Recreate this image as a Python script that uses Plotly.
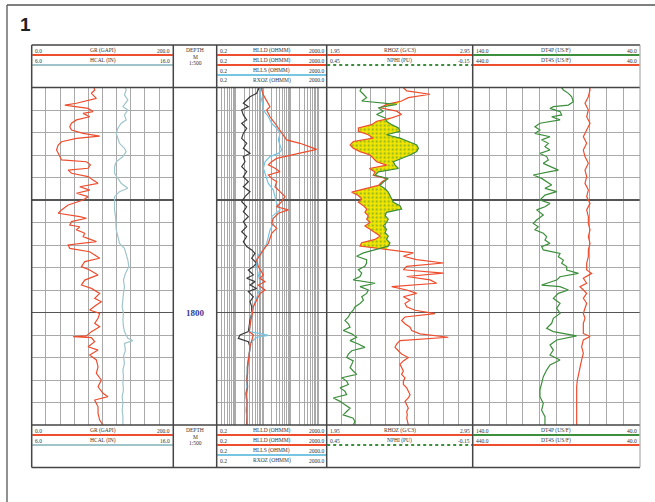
import numpy as np
import plotly.graph_objects as go

W, H = 655, 502
def px(x): return x / W
def py(y): return 1 - y / H

# ---------------- data (depth in m) ----------------
gr_depth = [1700.0, 1701.1, 1702.6, 1704.8, 1707.0, 1707.8, 1709.3, 1710.7, 1711.5, 1713.0, 1714.4, 1715.9, 1717.4, 1718.9,
            1720.4, 1721.6, 1722.6, 1724.1, 1725.6, 1727.8, 1730.0, 1732.2, 1733.0, 1734.4, 1735.9, 1736.7, 1738.1, 1739.6,
            1741.1, 1742.6, 1744.1, 1745.6, 1747.0, 1748.5, 1750.0, 1752.2, 1754.4, 1755.9, 1757.4, 1758.1, 1759.6, 1761.1,
            1761.9, 1763.3, 1764.8, 1766.3, 1768.5, 1770.0, 1771.5, 1773.0, 1774.4, 1775.9, 1777.4, 1779.6, 1781.1, 1783.3,
            1785.6, 1787.8, 1789.3, 1791.5, 1793.7, 1795.2, 1796.7, 1798.9, 1800.4, 1802.6, 1804.8, 1806.3, 1808.5, 1810.4,
            1810.7, 1811.2, 1813.0, 1815.2, 1816.7, 1818.9, 1821.1, 1824.1, 1827.0, 1830.0, 1833.0, 1835.9, 1837.4, 1838.9,
            1841.9, 1844.8, 1847.8, 1850.0]
gr = [88, 89.0, 84.3, 91.3, 63.2, 46.8, 79.6, 86.6, 72.6, 81.9, 63.2, 56.2, 53.8, 56.2, 72.6, 96.0, 63.2, 42.1, 37.4, 35.1,
      38.8, 42.1, 77.3, 82.9, 79.6, 51.5, 56.2, 79.6, 86.6, 93.7, 67.9, 81.9, 63.2, 79.6, 72.6, 51.5, 42.1, 37.4, 67.9, 77.3,
      56.2, 53.8, 67.9, 63.2, 74.9, 72.6, 91.3, 51.5, 53.8, 81.9, 89.0, 96.0, 74.9, 70.2, 81.9, 93.7, 74.9, 70.2, 84.3, 96.0,
      89.0, 98.3, 91.3, 81.9, 96.0, 93.7, 89.0, 96.0, 84.3, 77.3, 58.5, 84.3, 89.0, 79.6, 93.7, 81.9, 91.3, 93.7, 91.3, 98.3,
      93.7, 100.7, 107.7, 89.0, 93.7, 93.7, 96.0, 100.7]

hcal_depth = [1700.0, 1701.1, 1703.3, 1705.5, 1708.5, 1710.0, 1712.2, 1714.4, 1715.9, 1718.1, 1720.4, 1722.6, 1724.8, 1727.0,
              1728.5, 1730.7, 1733.0, 1735.2, 1738.1, 1740.4, 1742.6, 1744.8, 1746.3, 1748.5, 1751.5, 1754.4, 1757.4, 1760.4,
              1763.3, 1766.3, 1769.3, 1771.5, 1773.7, 1776.7, 1779.6, 1782.6, 1785.6, 1788.5, 1791.5, 1794.5, 1797.4, 1800.4,
              1803.3, 1806.3, 1808.5, 1811.5, 1812.5, 1813.7, 1816.7, 1819.6, 1822.6, 1825.6, 1828.5, 1831.5, 1834.4, 1837.4,
              1840.4, 1843.4, 1846.3, 1850.0]
hcal = [12.6, 12.67, 12.55, 12.79, 12.44, 12.79, 12.55, 12.67, 12.32, 12.09, 11.97, 12.09, 12.20, 12.55, 12.67, 12.44, 11.97,
        11.85, 11.85, 12.09, 12.32, 12.79, 12.20, 11.85, 11.85, 11.85, 11.92, 11.97, 11.97, 12.09, 12.20, 12.55, 12.67, 12.79,
        12.86, 12.62, 12.48, 12.55, 12.48, 12.44, 12.39, 12.48, 12.44, 12.48, 12.55, 12.79, 13.14, 12.55, 12.62, 12.48, 12.55,
        12.44, 12.48, 12.44, 12.48, 12.39, 12.44, 12.39, 12.44, 12.44]

rxoz_depth = [1700.0, 1701.1, 1702.6, 1704.1, 1707.0, 1708.5, 1710.0, 1712.2, 1714.4, 1715.9, 1718.1, 1720.4, 1722.6, 1724.8,
              1727.0, 1729.3, 1730.7, 1733.0, 1735.2, 1737.4, 1739.6, 1741.9, 1744.1, 1746.3, 1748.5, 1750.7, 1753.0, 1755.2,
              1757.4, 1759.6, 1761.9, 1764.1, 1766.3, 1768.5, 1770.7, 1772.2, 1773.7, 1775.9, 1778.1, 1779.6, 1781.1, 1783.3,
              1784.8, 1786.3, 1787.8, 1789.3, 1790.7, 1793.0, 1795.2, 1797.4, 1800.4, 1803.3, 1806.3, 1808.5, 1810.0, 1811.5,
              1813.0, 1815.2, 1818.1, 1821.1, 1824.1, 1827.0, 1830.0, 1833.0, 1835.9, 1838.9, 1841.9, 1844.8, 1847.8, 1850.0]
rxoz = [7.0, 6.53, 5.68, 3.25, 1.86, 2.83, 1.62, 1.86, 2.46, 1.62, 2.46, 1.86, 1.62, 2.46, 1.86, 3.25, 1.86, 2.14, 1.62, 2.46,
        1.86, 2.83, 1.86, 3.25, 2.14, 1.62, 2.46, 1.86, 2.83, 1.86, 2.46, 1.62, 2.46, 1.86, 2.46, 3.74, 4.94, 3.74, 5.68, 4.30,
        2.83, 4.30, 2.46, 4.94, 3.25, 5.68, 2.83, 4.30, 3.25, 3.74, 3.74, 3.25, 3.07, 2.83, 1.41, 1.22, 2.83, 3.25, 3.07, 2.83,
        2.60, 2.60, 2.46, 2.60, 2.33, 2.46, 2.46, 2.33, 2.46, 2.46]

hlls_depth = [1700.0, 1701.1, 1703.3, 1705.5, 1708.5, 1710.0, 1713.0, 1715.9, 1718.1, 1720.4, 1723.3, 1725.6, 1727.8, 1729.3,
              1730.7, 1733.0, 1735.9, 1738.1, 1740.4, 1742.6, 1745.6, 1748.5, 1751.5, 1754.4, 1757.4, 1760.4, 1763.3, 1766.3,
              1769.3, 1772.2, 1774.4, 1776.7, 1779.6, 1783.3, 1786.3, 1789.3, 1793.0, 1797.4, 1800.4, 1803.3, 1806.3, 1808.5,
              1809.6, 1810.2, 1811.0, 1812.2, 1813.7, 1816.7, 1819.6, 1822.6, 1825.6, 1828.5, 1831.5, 1834.4, 1837.4, 1840.4,
              1843.4, 1846.3, 1850.0]
hlls = [7.5, 7.51, 7.51, 8.64, 9.93, 9.93, 15.09, 19.94, 30.31, 40.08, 34.85, 40.08, 46.08, 34.85, 17.35, 11.41, 9.93, 11.41,
        13.12, 15.09, 22.93, 26.36, 30.31, 40.08, 19.94, 22.93, 17.35, 15.09, 13.12, 9.93, 6.53, 5.68, 5.68, 6.53, 7.51, 7.51,
        5.68, 4.30, 3.74, 3.50, 3.25, 3.07, 9.93, 15.09, 5.68, 4.30, 3.25, 3.25, 2.83, 2.83, 2.60, 2.60, 2.46, 2.60, 2.33, 2.46,
        2.33, 2.46, 2.60]

hlld_depth = [1700.0, 1701.1, 1703.3, 1707.0, 1708.5, 1710.0, 1713.0, 1715.9, 1718.1, 1720.4, 1723.3, 1724.8, 1726.3, 1727.5,
              1728.5, 1730.0, 1731.5, 1733.0, 1734.4, 1735.9, 1737.4, 1738.9, 1740.4, 1741.9, 1744.1, 1746.3, 1748.5, 1750.7,
              1753.0, 1754.4, 1755.9, 1758.1, 1760.4, 1762.6, 1764.8, 1767.0, 1769.3, 1772.2, 1774.4, 1776.7, 1779.6, 1783.3,
              1784.8, 1786.3, 1787.8, 1790.0, 1791.5, 1794.5, 1797.4, 1800.4, 1803.3, 1806.3, 1808.5, 1810.0, 1812.2, 1815.2,
              1818.1, 1821.1, 1824.1, 1827.0, 1830.0, 1833.0, 1835.9, 1838.9, 1841.9, 1844.8, 1847.8, 1850.0]
hlld = [8.5, 8.64, 9.93, 15.09, 17.35, 13.12, 17.35, 26.36, 34.85, 46.08, 70.0, 213.9, 494, 864, 374, 92.6, 30.31, 19.94,
        15.09, 26.36, 40.08, 15.09, 19.94, 30.31, 26.36, 40.08, 60.9, 46.08, 30.31, 80.5, 34.85, 22.93, 19.94, 30.31, 19.94,
        17.35, 15.09, 9.93, 7.51, 5.68, 6.53, 9.93, 7.51, 11.41, 6.53, 11.41, 7.51, 5.68, 4.30, 4.0, 3.50, 3.25, 3.07, 4.30,
        3.74, 3.25, 3.07, 2.83, 2.67, 2.67, 2.53, 2.67, 2.46, 2.53, 2.53, 2.39, 2.53, 2.53]

depth_t3 = [1700.0, 1701.5, 1703.0, 1704.5, 1706.0, 1707.5, 1709.0, 1710.5, 1712.0, 1713.5,
            1715.0, 1716.5, 1718.0, 1719.5, 1721.0, 1722.5, 1724.0, 1725.5, 1727.0, 1728.5,
            1730.0, 1731.5, 1733.0, 1734.5, 1736.0, 1737.5, 1739.0, 1740.5, 1742.0, 1743.5,
            1745.0, 1746.5, 1748.0, 1749.5, 1751.0, 1752.5, 1754.0, 1755.5, 1757.0, 1758.5,
            1760.0, 1761.5, 1763.0, 1764.5, 1766.0, 1767.5, 1769.0, 1770.5, 1772.0, 1773.5,
            1775.0, 1776.5, 1778.0, 1779.5, 1781.0, 1782.5, 1784.0, 1785.5, 1787.0, 1788.5,
            1790.0, 1791.5, 1793.0, 1794.5, 1796.0, 1797.5, 1799.0, 1800.5, 1802.0, 1803.5,
            1805.0, 1806.5, 1808.0, 1809.5, 1811.0, 1812.5, 1814.0, 1815.5, 1817.0, 1818.5,
            1820.0, 1821.5, 1823.0, 1824.5, 1826.0, 1827.5, 1829.0, 1830.5, 1832.0, 1833.5,
            1835.0, 1836.5, 1838.0, 1839.5, 1841.0, 1842.5, 1844.0, 1845.5, 1847.0, 1848.5,
            1850.0]
rhoz = [2.475, 2.498, 2.658, 2.509, 2.463, 2.361, 2.315, 2.429, 2.463, 2.395,
        2.292, 2.258, 2.167, 2.167, 2.235, 2.269, 2.132, 2.110, 2.132, 2.178,
        2.247, 2.269, 2.292, 2.361, 2.242, 2.281, 2.269, 2.361, 2.327, 2.304,
        2.212, 2.121, 2.167, 2.189, 2.167, 2.201, 2.224, 2.212, 2.235, 2.224,
        2.247, 2.212, 2.247, 2.281, 2.315, 2.281, 2.189, 2.178, 2.361, 2.543,
        2.475, 2.566, 2.749, 2.498, 2.475, 2.749, 2.498, 2.658, 2.703, 2.395,
        2.498, 2.566, 2.475, 2.521, 2.486, 2.498, 2.555, 2.692, 2.486, 2.463,
        2.486, 2.521, 2.532, 2.589, 2.783, 2.452, 2.429, 2.418, 2.441, 2.463,
        2.509, 2.475, 2.452, 2.463, 2.475, 2.463, 2.486, 2.475, 2.475, 2.498,
        2.509, 2.521, 2.509, 2.486, 2.498, 2.509, 2.498, 2.502, 2.498, 2.505,
        2.509]
nphi = [0.306, 0.313, 0.299, 0.286, 0.306, 0.162, 0.238, 0.217, 0.245, 0.210,
        0.204, 0.183, 0.155, 0.149, 0.204, 0.149, 0.114, 0.080, 0.073, 0.080,
        0.107, 0.142, 0.176, 0.169, 0.155, 0.238, 0.251, 0.197, 0.217, 0.231,
        0.210, 0.197, 0.190, 0.183, 0.176, 0.149, 0.142, 0.204, 0.210, 0.197,
        0.204, 0.217, 0.204, 0.210, 0.197, 0.204, 0.190, 0.197, 0.251, 0.299,
        0.327, 0.286, 0.286, 0.293, 0.320, 0.306, 0.313, 0.341, 0.251, 0.313,
        0.279, 0.286, 0.306, 0.299, 0.313, 0.334, 0.341, 0.354, 0.361, 0.375,
        0.361, 0.354, 0.382, 0.347, 0.327, 0.354, 0.320, 0.293, 0.347, 0.361,
        0.368, 0.341, 0.347, 0.354, 0.341, 0.327, 0.388, 0.368, 0.361, 0.395,
        0.375, 0.368, 0.423, 0.395, 0.375, 0.354, 0.368, 0.382, 0.341, 0.334,
        0.341]

dt4p_depth = [1700.0, 1701.1, 1702.6, 1704.1, 1706.3, 1707.8, 1708.5, 1709.3, 1710.7, 1712.2, 1713.0, 1714.4, 1715.9, 1717.4,
              1718.9, 1720.4, 1721.9, 1723.3, 1724.8, 1726.3, 1727.8, 1729.3, 1730.7, 1732.2, 1733.7, 1736.7, 1737.4, 1738.9,
              1740.4, 1741.9, 1743.3, 1744.8, 1746.3, 1747.8, 1750.0, 1751.5, 1753.0, 1754.4, 1756.7, 1758.9, 1760.4, 1761.9,
              1763.3, 1764.8, 1766.3, 1767.8, 1769.3, 1770.7, 1772.2, 1773.7, 1775.2, 1776.7, 1778.1, 1779.6, 1781.1, 1782.6,
              1784.1, 1785.6, 1787.8, 1788.5, 1790.0, 1791.5, 1793.7, 1795.9, 1798.1, 1800.4, 1802.6, 1804.8, 1807.0, 1808.5,
              1810.4, 1812.2, 1814.4, 1816.7, 1818.9, 1821.1, 1823.3, 1825.6, 1828.5, 1831.5, 1834.4, 1837.4, 1840.4, 1843.4,
              1846.3, 1850.0]
dt4p = [87.0, 85.8, 82.8, 80.8, 79.9, 82.8, 91.8, 93.8, 87.8, 86.8, 92.8, 87.8, 99.8, 102.8, 99.8, 102.8, 93.8, 98.8, 94.8,
        96.8, 93.8, 99.8, 95.8, 94.8, 97.8, 88.8, 93.8, 103.8, 98.8, 95.8, 92.8, 96.8, 89.8, 96.8, 99.8, 93.8, 96.8, 101.8,
        97.8, 101.8, 103.8, 100.8, 102.8, 97.8, 95.8, 96.8, 93.8, 98.8, 97.8, 87.8, 88.8, 85.8, 86.8, 83.8, 83.8, 76.8, 87.8,
        89.8, 98.8, 87.8, 82.8, 88.8, 91.8, 87.8, 89.8, 87.8, 91.8, 92.8, 95.8, 91.8, 77.9, 89.8, 93.8, 91.8, 93.8, 87.8,
        93.8, 95.8, 97.8, 98.8, 99.8, 99.8, 97.8, 98.8, 96.8, 96.8]

dt4s_depth = [1700.0, 1701.1, 1704.1, 1707.0, 1710.0, 1713.0, 1715.9, 1718.9, 1721.9, 1724.8, 1727.8, 1730.7, 1733.7, 1736.7,
              1739.6, 1742.6, 1745.6, 1748.5, 1751.5, 1754.4, 1757.4, 1760.4, 1763.3, 1766.3, 1769.3, 1772.2, 1775.2, 1778.1,
              1781.1, 1782.6, 1784.8, 1787.0, 1788.5, 1790.0, 1791.5, 1793.7, 1795.9, 1798.1, 1800.4, 1802.6, 1804.8, 1807.0,
              1809.3, 1810.7, 1812.2, 1815.2, 1818.1, 1821.1, 1824.1, 1827.0, 1830.0, 1833.0, 1835.9, 1838.9, 1841.9, 1844.8,
              1850.0]
dt4s = [160.0, 159.5, 163.5, 171.5, 163.5, 167.5, 159.5, 167.5, 175.5, 167.5, 175.5, 171.5, 163.5, 171.5, 167.5, 171.5,
        163.5, 167.5, 159.5, 167.5, 163.5, 163.5, 159.5, 163.5, 159.5, 163.5, 163.5, 167.5, 167.5, 155.5, 175.5, 167.5, 183.4,
        175.5, 167.5, 175.5, 167.5, 171.5, 175.5, 171.5, 175.5, 175.5, 175.5, 159.5, 175.5, 179.5, 175.5, 179.5, 183.4, 187.4,
        189.8, 191.4, 191.4, 191.4, 191.4, 191.4, 191.4]

depth_labels = [1800]
log_grid = [0.2, 0.3, 0.4, 0.5, 0.6, 0.7, 0.8, 0.9, 1, 2, 3, 4, 5, 6, 7, 8, 9, 10, 20, 30, 40, 50, 60, 70, 80, 90,
            100, 200, 300, 400, 500, 600, 700, 800, 900, 1000, 2000]

# header rows: (left value, curve name, right value, line colour key, dash)
t1_rows = [("0.0", "GR (GAPI)", "200.0", "red", "solid"), ("6.0", "HCAL (IN)", "16.0", "hcal", "solid")]
t2_rows = [("0.2", "HLLD (OHMM)", "2000.0", "red", "solid"), ("0.2", "HLLD (OHMM)", "2000.0", "red", "solid"),
           ("0.2", "HLLS (OHMM)", "2000.0", "blue", "solid"), ("0.2", "RXOZ (OHMM)", "2000.0", None, None)]
t3_rows = [("1.95", "RHOZ (G/C3)", "2.95", "red", "solid"), ("0.45", "NPHI (PU)", "-0.15", "green", "dot")]
t4_rows = [("140.0", "DT4P (US/F)", "40.0", "green", "solid"), ("440.0", "DT4S (US/F)", "40.0", "red", "solid")]
depth_head = ["DEPTH", "M", "1:500"]

# ---------------- styling / geometry ----------------
COL = {"red": "#ee4d2e", "hcal": "#9fc5cb", "blue": "#76c5e3", "black": "#3a3a3a", "green": "#3d8f3d"}
GRID = "#a9a9a9"
MAJOR = "#555555"
BORDER = "#454545"
TXT = "#333333"
SERIF = "Liberation Serif, DejaVu Serif, serif"

HDR_TOP, LOG_TOP, LOG_BOT = 45.0, 87.5, 425.0
FTR_BOT = LOG_BOT + (LOG_TOP - HDR_TOP)
T1 = (31.7, 173.3)
DEP = (173.3, 216.7)
T2 = (216.7, 326.7)
T3 = (326.7, 472.7)
T4 = (472.7, 640.0)
ydom = [py(LOG_BOT), py(LOG_TOP)]

fig = go.Figure()

def curve(x, y, xa, ya, color, width=1.2):
    fig.add_trace(go.Scatter(x=x, y=y, xaxis=xa, yaxis=ya, mode="lines",
                             line=dict(color=color, width=width), showlegend=False, hoverinfo="skip"))

curve(gr, gr_depth, "x", "y", COL["red"])
curve(hcal, hcal_depth, "x2", "y", COL["hcal"])
curve(rxoz, rxoz_depth, "x3", "y3", COL["black"])
curve(hlls, hlls_depth, "x3", "y3", COL["blue"])
curve(hlld, hlld_depth, "x3", "y3", COL["red"])

# crossover fill (NPHI placed on the RHOZ scale)
rhoz_a = np.array(rhoz)
nphi_on_rhoz = 1.95 + (0.45 - np.array(nphi)) / 0.6 * (2.95 - 1.95)
fig.add_trace(go.Scatter(x=rhoz_a, y=depth_t3, xaxis="x4", yaxis="y4", mode="lines",
                         line=dict(width=0, color="rgba(0,0,0,0)"), showlegend=False, hoverinfo="skip"))
fig.add_trace(go.Scatter(x=np.maximum(rhoz_a, nphi_on_rhoz), y=depth_t3, xaxis="x4", yaxis="y4", mode="lines",
                         line=dict(width=0, color="rgba(0,0,0,0)"), fill="tonextx", fillcolor="#f3e600",
                         fillpattern=dict(shape=".", fgcolor="#3d8f3d", bgcolor="#f3e600", size=4, solidity=0.3),
                         showlegend=False, hoverinfo="skip"))
curve(rhoz, depth_t3, "x4", "y4", COL["red"])
curve(nphi, depth_t3, "x5", "y4", COL["green"])
curve(dt4p, dt4p_depth, "x6", "y6", COL["green"])
curve(dt4s, dt4s_depth, "x7", "y6", COL["red"])

def xax(dom, rng, anchor, **kw):
    d = dict(domain=[px(dom[0]), px(dom[1])], range=rng, anchor=anchor, showticklabels=False, ticks="",
             showline=False, zeroline=False, showgrid=True, gridcolor=GRID, gridwidth=1, fixedrange=True)
    d.update(kw)
    return d

def yax(anchor, **kw):
    d = dict(domain=ydom, range=[1850, 1700], anchor=anchor, showticklabels=False, ticks="", showline=False,
             zeroline=False, showgrid=True, gridcolor=MAJOR, gridwidth=1.8, tickmode="linear", tick0=1700, dtick=50,
             minor=dict(tickmode="linear", tick0=1700, dtick=10, showgrid=True, gridcolor=GRID, gridwidth=1),
             fixedrange=True)
    d.update(kw)
    return d

fig.update_layout(
    width=W, height=H, margin=dict(l=0, r=0, t=0, b=0, pad=0),
    paper_bgcolor="white", plot_bgcolor="white", showlegend=False,
    xaxis=xax(T1, [0, 200], "y", tickmode="linear", tick0=0, dtick=20),
    xaxis2=dict(overlaying="x", range=[6, 16], anchor="y", visible=False, fixedrange=True),
    xaxis3=xax(T2, [np.log10(0.2), np.log10(2000)], "y3", type="log", tickmode="array", tickvals=log_grid),
    xaxis4=xax(T3, [1.95, 2.95], "y4", tickmode="linear", tick0=1.95, dtick=0.1),
    xaxis5=dict(overlaying="x4", range=[0.45, -0.15], anchor="y4", visible=False, fixedrange=True),
    xaxis6=xax(T4, [140, 40], "y6", tickmode="linear", tick0=40, dtick=10),
    xaxis7=dict(overlaying="x6", range=[440, 40], anchor="y6", visible=False, fixedrange=True),
    yaxis=yax("x"),
    yaxis3=yax("x3", matches="y"),
    yaxis4=yax("x4", matches="y"),
    yaxis6=yax("x6", matches="y"),
)

shapes = []
annos = []

def hline(y, x0, x1, color, width, dash="solid"):
    shapes.append(dict(type="line", xref="paper", yref="paper", x0=px(x0), x1=px(x1), y0=py(y), y1=py(y),
                       line=dict(color=color, width=width, dash=dash)))

def vline(x, y0, y1, color, width):
    shapes.append(dict(type="line", xref="paper", yref="paper", x0=px(x), x1=px(x), y0=py(y0), y1=py(y1),
                       line=dict(color=color, width=width)))

def text(x, y, s, anchor="center", size=6, color=TXT, family=SERIF):
    annos.append(dict(xref="paper", yref="paper", x=px(x), y=py(y), text=s, showarrow=False, xanchor=anchor,
                      yanchor="middle", font=dict(size=size, color=color, family=family)))

# outer frame
hline(5, 7, 660, "#555555", 1.3)
vline(7, 5, 510, "#555555", 1.3)
text(18, 25, "<b>1</b>", anchor="left", size=19, color="#222222", family="Liberation Sans, Arial, sans-serif")

# headers and footers
for top in (HDR_TOP, LOG_BOT):
    for (tx, rows) in ((T1, t1_rows), (T2, t2_rows), (T3, t3_rows), (T4, t4_rows)):
        for i, (lv, name, rv, ck, dash) in enumerate(rows):
            yc = top + 5.5 + 10 * i
            text(tx[0] + 1.5, yc, lv, anchor="left", size=5.5)
            text((tx[0] + tx[1]) / 2, yc, name, size=5.5)
            text(tx[1] - 1, yc, rv, anchor="right", size=5.5)
            if ck:
                hline(top + 10 + 10 * i, tx[0] + 0.5, tx[1] - 0.5, COL[ck], 2, dash)
    for j, s in enumerate(depth_head):
        text((DEP[0] + DEP[1]) / 2, top + 5 + 6.5 * j, s, size=5.5)

# depth labels
for d in depth_labels:
    yl = LOG_TOP + (d - 1700) / 150 * (LOG_BOT - LOG_TOP)
    text((DEP[0] + DEP[1]) / 2, yl, "<b>%d</b>" % d, size=9, color="#3a3a96")

# borders
for y in (HDR_TOP, LOG_TOP, LOG_BOT, FTR_BOT):
    hline(y, T1[0], T4[1], BORDER, 1.5)
for x in (T1[0], T1[1], DEP[1], T2[1], T3[1]):
    vline(x, HDR_TOP, FTR_BOT, BORDER, 1.5)
vline(T4[1], HDR_TOP, FTR_BOT, "#9a9a9a", 1)

fig.update_layout(shapes=shapes, annotations=annos)
fig.write_html("out.html", config={"displayModeBar": False, "staticPlot": True},
               post_script="document.body.style.margin='0';document.body.style.overflow='hidden';")
